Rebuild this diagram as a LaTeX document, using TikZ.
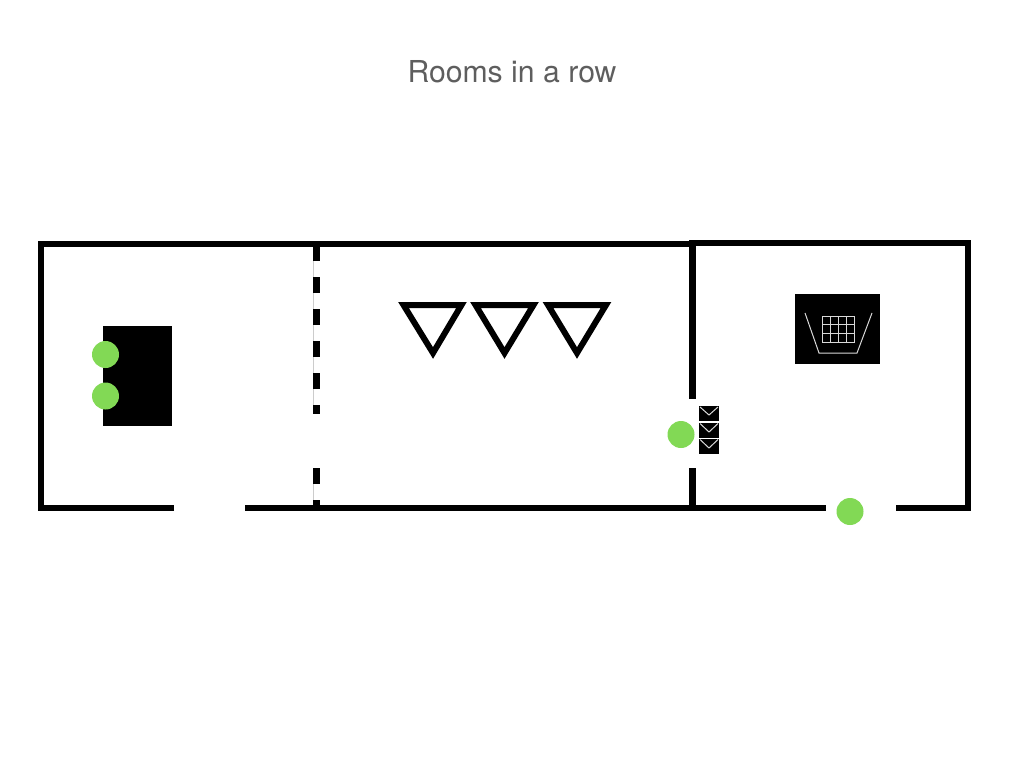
\documentclass[tikz,border=0pt]{standalone}
\usepackage{fontspec}
\setmainfont{TeX Gyre Heros}
\definecolor{guestgreen}{HTML}{82D955}
\definecolor{titlegray}{HTML}{5E5E5E}
\begin{document}
\begin{tikzpicture}[
      x=1pt, y=-1pt,
      wall/.style={draw=black, line width=6pt, miter limit=10},
      thickwall/.style={draw=black, line width=7pt},
      partition/.style={draw=black, line width=7pt, dash pattern=on 16pt off 16pt},
      blackbox/.style={rectangle, fill=black, inner sep=0pt, anchor=north west},
      guest/.style={circle, fill=guestgreen, inner sep=0pt, minimum size=27pt},
      seat/.style={draw=black, line width=6pt, miter limit=10},
      thinwhite/.style={draw=white!85!black, line width=0.8pt},
      title/.style={font=\fontsize{30.2}{35}\selectfont, text=titlegray},
    ]
    \useasboundingbox (0,0) rectangle (1024,768);

    % Title
    \node[title] (heading) at (512,71.5) {Rooms in a row};

    % Outer walls and door gaps
    \draw[wall] (174,508.3) -- (40.5,508.3) -- (40.5,243.8) -- (692,243.8);
    \draw[wall] (245,508.3) -- (692,508.3);
    \draw[wall] (692,507.5) -- (826,507.5);
    \draw[wall] (689,242.8) -- (968,242.8) -- (968,507.5) -- (896,507.5);
    \draw[thickwall] (692.5,243) -- (692.5,399);
    \draw[thickwall] (692.5,468) -- (692.5,508);

    % Dashed partition
    \draw[gray!40, line width=0.5pt] (313,246) -- (313,414);
    \draw[gray!40, line width=0.5pt] (313,468) -- (313,505);
    \draw[partition] (316.5,245) -- (316.5,414);
    \draw[partition] (316.5,468) -- (316.5,510);

    % Left room: table
    \node[blackbox, minimum width=69pt, minimum height=100pt] (table) at (103,326) {};
    \node[guest] (guestA) at (105.5,354.5) {};
    \node[guest] (guestB) at (105.5,396) {};

    % Middle room: triangles
    \draw[seat] (403.5,305) -- (461.5,305) -- (433,353) -- cycle;
    \draw[seat] (475.5,305) -- (533.5,305) -- (504.5,353) -- cycle;
    \draw[seat] (548,305) -- (606,305) -- (577,353) -- cycle;

    % Right room: basket
    \node[blackbox, minimum width=85pt, minimum height=70pt] (basket) at (795,294) {};
    \draw[thinwhite, line width=1pt] (805,313) -- (819,353) -- (857,353) -- (872,313);
    \draw[thinwhite] (822,316) rectangle (854,342);
    \draw[thinwhite] (830,316) -- (830,342) (838,316) -- (838,342) (846,316) -- (846,342);
    \draw[thinwhite] (822,324.7) -- (854,324.7) (822,333.3) -- (854,333.3);

    % Doorway: envelopes and guest
    \node[blackbox, minimum width=20pt, minimum height=15pt] (mailA) at (699,406) {};
    \node[blackbox, minimum width=20pt, minimum height=15pt] (mailB) at (699,422.5) {};
    \node[blackbox, minimum width=20pt, minimum height=15pt] (mailC) at (699,438.5) {};
    \draw[thinwhite, line width=1pt] (700,407) -- (709,415) -- (718,407);
    \draw[thinwhite, line width=1pt] (700,423.5) -- (709,432) -- (718,423.5);
    \draw[thinwhite, line width=1pt] (700,439.5) -- (709,448) -- (718,439.5);
    \node[guest] (guestC) at (681,434.5) {};

    % Bottom door guest
    \node[guest] (guestD) at (850,511.5) {};

    \end{tikzpicture}
\end{document}
